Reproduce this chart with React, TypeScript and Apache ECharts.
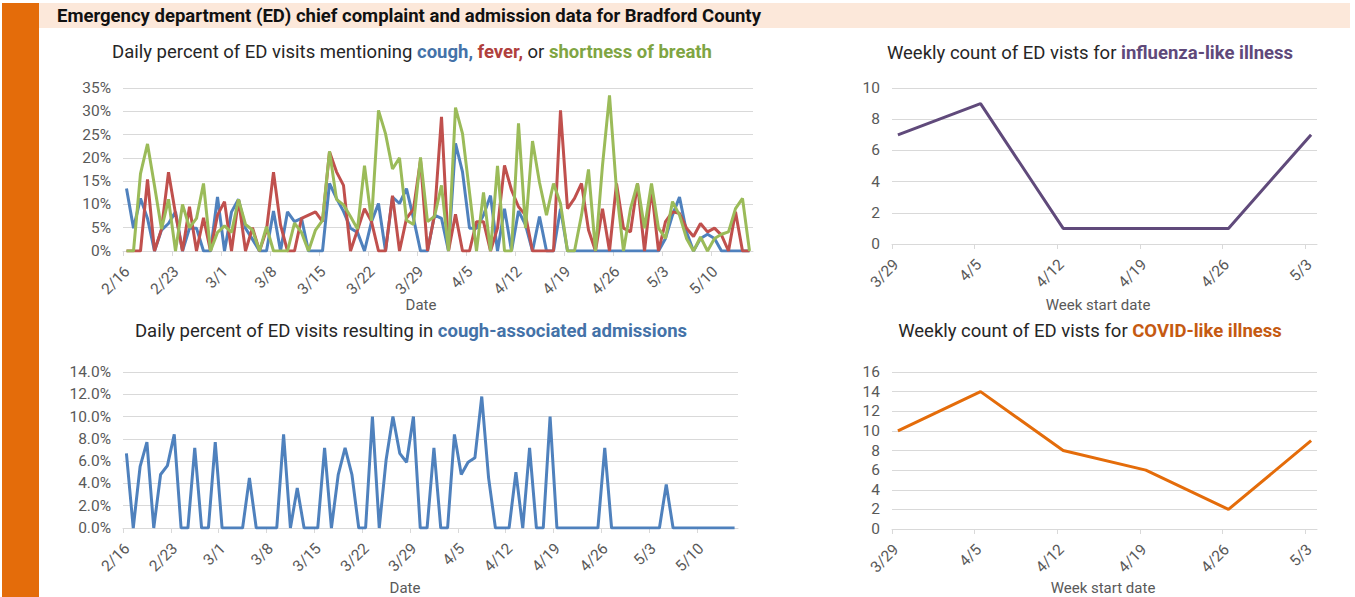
import React, { useEffect, useRef } from 'react';
import * as echarts from 'echarts';

// ---- data ----
const dateLabels = ['2/16', '2/23', '3/1', '3/8', '3/15', '3/22', '3/29', '4/5', '4/12', '4/19', '4/26', '5/3', '5/10'];
const weekLabels = ['3/29', '4/5', '4/12', '4/19', '4/26', '5/3'];

// daily values, 2/16 .. 5/15 (percent)
const coughPct = [
  13.4, 4.9, 11.3, 7, 0, 4.5, 5.9, 8.4, 0, 4.9,
  4.9, 0, 0, 11.6, 0, 8.4, 11.1, 4.9, 2.5, 0,
  0, 8.6, 0, 8.4, 6.3, 7, 0, 0, 0, 14.5,
  11.3, 8.5, 4.9, 4, 0, 6.3, 10.2, 0, 11.6, 10.2,
  13.4, 7, 0, 0, 7.7, 7, 0, 23.1, 17, 4.9,
  4.9, 7.7, 11.9, 0, 9.1, 0, 8.6, 5.6, 0, 7.4,
  0, 0, 9.1, 0, 0, 0, 0, 0, 0, 0,
  0, 0, 0, 0, 0, 0, 0, 2.7, 7.7, 11.6,
  4.1, 0, 2.7, 3.6, 2.7, 0, 0, 0, 0, 0,
];
const feverPct = [
  0, 0, 0, 15.4, 0, 4.7, 16.9, 8, 0, 9.5,
  0, 7.1, 0, 7.7, 10.6, 0, 11.1, 0, 5, 0,
  4.5, 16.9, 5.6, 0, 0, 7, 7.7, 8.4, 6.3, 21.3,
  17, 14.1, 0, 4.5, 9.1, 6.3, 0, 0, 11.9, 0,
  7, 9, 19.5, 0, 7.7, 28.8, 0, 7.9, 0, 0,
  6.3, 6.3, 0, 4.9, 18.4, 13.1, 9.5, 7.7, 0, 0,
  0, 0, 30.2, 9.1, 11.3, 14.5, 4.5, 0, 9.1, 0,
  14.5, 4.9, 4.1, 14.5, 0, 13.4, 0, 6.3, 8.4, 8.1,
  4.9, 3.1, 5.9, 4.1, 4.9, 3.4, 0, 8.4, 0, 0,
];
const sobPct = [
  0, 0, 16.6, 23, 14, 4.7, 11.1, 0, 10, 5,
  7, 14.5, 0, 4, 5.4, 4, 11.1, 5.7, 4.5, 0,
  5.2, 0, 0, 0, 6, 4, 0, 4.5, 6.6, 21.4,
  11.1, 9.9, 7.4, 4.7, 18.3, 6.5, 30.2, 25.2, 17.6, 20,
  6.6, 5.7, 20.1, 6.3, 7.4, 14.1, 0, 30.8, 25.2, 12.6,
  0, 12.6, 0, 18.3, 0, 0, 27.4, 4.9, 23.6, 14.7,
  7.7, 14.5, 10.2, 0, 0, 7.7, 17.5, 0, 18.4, 33.4,
  13.1, 0, 9.1, 14.5, 4.9, 14.5, 4.9, 2.7, 10.6, 7.7,
  2.7, 0, 3, 0, 2.7, 3.6, 4.1, 9.1, 11.3, 0,
];
const admitPct = [
  6.7, 0, 5.5, 7.7, 0, 4.8, 5.6, 8.4, 0, 0,
  7.2, 0, 0, 7.7, 0, 0, 0, 0, 4.5, 0,
  0, 0, 0, 8.4, 0, 3.6, 0, 0, 0, 7.2,
  0, 4.8, 7.2, 4.8, 0, 0, 10, 0, 6.1, 10,
  6.7, 5.9, 10, 0, 0, 7.2, 0, 0, 8.4, 4.8,
  5.9, 6.3, 11.8, 4.5, 0, 0, 0, 5, 0, 7.2,
  0, 0, 10, 0, 0, 0, 0, 0, 0, 0,
  7.2, 0, 0, 0, 0, 0, 0, 0, 0, 3.9,
  0, 0, 0, 0, 0, 0, 0, 0, 0, 0,
];
const iliCounts = [7, 9, 1, 1, 1, 7];
const cliCounts = [10, 14, 8, 6, 2, 9];

// ---- styling ----
const FONT = 'Roboto, "Noto Sans", sans-serif';
const LABEL = '#595959';
const GRIDC = '#D9D9D9';
const BLUE = '#4F81BD';
const RED = '#C0504D';
const GREEN = '#9BBB59';
const PURPLE = '#604A7B';
const ORANGE = '#E46C0A';
const TITLE_SIZE = 18.5;
const AXIS_SIZE = 15.5;

const daily = (arr: number[]) => arr.map((v, i) => [i + 0.5, v]);
const weekly = (arr: number[]) => arr.map((v, i) => [i * 7 + 0.5, v]);
const dayTicks = dateLabels.map((_, i) => i * 7);
const weekTicks = weekLabels.map((_, i) => i * 7);

function xAxisDef(gridIndex: number, max: number, ticks: number[], labels: string[], labelShift: number) {
  return {
    type: 'value', gridIndex, min: 0, max,
    axisLine: { show: true, lineStyle: { color: GRIDC, width: 1 } },
    axisTick: { show: true, customValues: ticks, length: 5, lineStyle: { color: GRIDC } },
    axisLabel: {
      customValues: ticks.map((t) => t + labelShift), rotate: 45, margin: 18,
      formatter: (v: number) => labels[Math.round((v - labelShift) / 7)] ?? '',
      color: LABEL, fontSize: AXIS_SIZE, fontFamily: FONT,
    },
    splitLine: { show: false },
  };
}
function yAxisDef(gridIndex: number, max: number, interval: number, fmt: (v: number) => string) {
  return {
    type: 'value', gridIndex, min: 0, max, interval,
    axisLine: { show: false }, axisTick: { show: false },
    axisLabel: { formatter: fmt, color: LABEL, fontSize: AXIS_SIZE, fontFamily: FONT, margin: 12 },
    splitLine: { show: true, lineStyle: { color: GRIDC, width: 1 } },
  };
}
function lineSeries(idx: number, data: number[][], color: string) {
  return {
    type: 'line', xAxisIndex: idx, yAxisIndex: idx, data,
    symbol: 'none', showSymbol: false,
    lineStyle: { color, width: 3 }, itemStyle: { color },
    z: 2,
  };
}
function titleDef(text: string, x: number, y: number, rich: any) {
  return {
    text, left: x, top: y, textAlign: 'center', padding: 0,
    textStyle: { fontSize: TITLE_SIZE, fontWeight: 'normal', color: '#262626', fontFamily: FONT, rich },
  };
}
const base = { fontSize: TITLE_SIZE, fontFamily: FONT, fontWeight: 'bold' };
const axisName = (text: string, x: number, y: number) => ({
  type: 'text', x, y,
  style: { text, fontSize: 15, fontFamily: FONT, fill: LABEL, align: 'center', verticalAlign: 'middle' },
});

export default function App() {
  const ref = useRef<HTMLDivElement>(null);
  useEffect(() => {
    if (!ref.current) return;
    const chart = echarts.init(ref.current, undefined, { renderer: 'svg' });
    chart.setOption({
      animation: false,
      backgroundColor: '#FFFFFF',
      title: [
        titleDef('Daily percent of ED visits mentioning {b|cough,} {r|fever,} or {g|shortness of breath}', 412, 42, {
          b: { ...base, color: '#4472A8' }, r: { ...base, color: '#B0403D' }, g: { ...base, color: '#7FA543' },
        }),
        titleDef('Daily percent of ED visits resulting in {b|cough-associated admissions}', 411, 321, {
          b: { ...base, color: '#4472A8' },
        }),
        titleDef('Weekly count of ED vists for {p|influenza-like illness}', 1090, 43, {
          p: { ...base, color: '#5F497A' },
        }),
        titleDef('Weekly count of ED vists for {o|COVID-like illness}', 1090, 321, {
          o: { ...base, color: '#C55A11' },
        }),
      ],
      grid: [
        { left: 123, top: 88, width: 630, height: 163 },
        { left: 123, top: 372, width: 615, height: 156 },
        { left: 892, top: 88, width: 425, height: 156 },
        { left: 892, top: 372, width: 425, height: 157 },
      ],
      xAxis: [
        xAxisDef(0, 90, dayTicks, dateLabels, 0.6),
        xAxisDef(1, 90, dayTicks, dateLabels, 0.6),
        xAxisDef(2, 36, weekTicks, weekLabels, 0.35),
        xAxisDef(3, 36, weekTicks, weekLabels, 0.35),
      ],
      yAxis: [
        yAxisDef(0, 35, 5, (v) => `${v}%`),
        yAxisDef(1, 14, 2, (v) => `${v.toFixed(1)}%`),
        yAxisDef(2, 10, 2, (v) => `${v}`),
        yAxisDef(3, 16, 2, (v) => `${v}`),
      ],
      series: [
        lineSeries(0, daily(coughPct), BLUE),
        lineSeries(0, daily(feverPct), RED),
        lineSeries(0, daily(sobPct), GREEN),
        lineSeries(1, daily(admitPct), BLUE),
        lineSeries(2, weekly(iliCounts), PURPLE),
        lineSeries(3, weekly(cliCounts), ORANGE),
      ],
      graphic: [
        { type: 'rect', shape: { x: 2, y: 3, width: 37, height: 594 }, style: { fill: '#E46C0A' }, silent: true },
        { type: 'rect', shape: { x: 39, y: 3, width: 1311, height: 25 }, style: { fill: '#FCE8DA' }, silent: true },
        {
          type: 'text', x: 57, y: 16,
          style: { text: 'Emergency department (ED) chief complaint and admission data for Bradford County', fontSize: 18.5, fontWeight: 'bold', fontFamily: FONT, fill: '#111111', verticalAlign: 'middle' },
        },
        axisName('Date', 421, 305),
        axisName('Date', 405, 588),
        axisName('Week start date', 1098, 305),
        axisName('Week start date', 1103, 588),
      ],
    });
    return () => chart.dispose();
  }, []);
  return <div ref={ref} style={{ position: 'fixed', left: 0, top: 0, width: 1355, height: 597, background: '#fff' }} />;
}
